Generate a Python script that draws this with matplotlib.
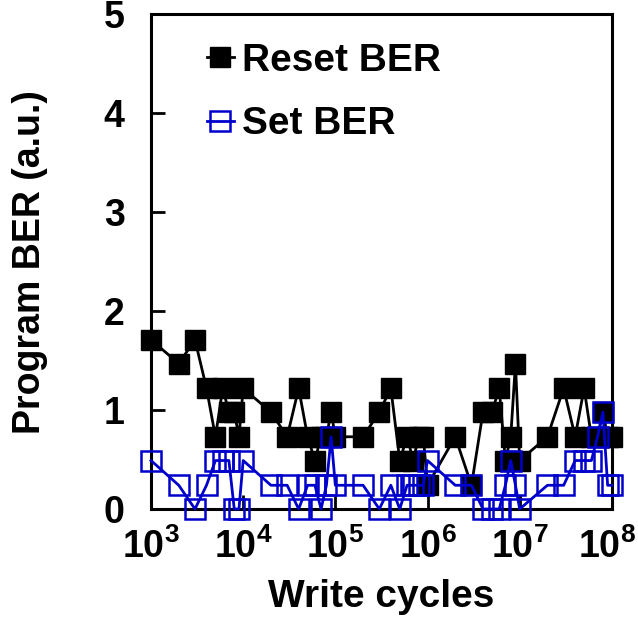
import numpy as np
import matplotlib
matplotlib.use('Agg')
import matplotlib.pyplot as plt
import matplotlib.transforms as mtransforms

plt.rcParams['font.family'] = ['Liberation Sans', 'DejaVu Sans']
plt.rcParams['font.weight'] = 'bold'
plt.rcParams['mathtext.fontset'] = 'custom'
plt.rcParams['mathtext.bf'] = 'Liberation Sans:bold'
plt.rcParams['mathtext.rm'] = 'Liberation Sans:bold'

# cycles: 1..9 x 10^n for n = 3..7, plus 10^8
cycles = [k * 10.0 ** n for n in range(3, 8) for k in range(1, 10)] + [1e8]

reset_ber = [1.71, 1.47, 1.71, 1.22, 0.73, 1.22, 0.98, 0.98, 0.73,
             1.22, 0.98, 0.73, 1.22, 0.73, 0.49, 0.73, 0.73, 0.98,
             0.73, 0.73, 0.98, 1.22, 0.49, 0.73, 0.49, 0.73, 0.73,
             0.24, 0.73, 0.24, 0.98, 0.98, 1.22, 0.49, 0.73, 1.47,
             0.49, 0.73, 1.22, 0.73, 1.22, 0.73, 0.73, 0.98, 0.73,
             0.73]

set_ber = [0.49, 0.24, 0.0, 0.24, 0.49, 0.49, 0.49, 0.0, 0.0,
           0.49, 0.24, 0.24, 0.0, 0.24, 0.24, 0.0, 0.24, 0.73,
           0.24, 0.24, 0.0, 0.24, 0.0, 0.24, 0.24, 0.24, 0.24,
           0.49, 0.24, 0.24, 0.0, 0.0, 0.0, 0.24, 0.49, 0.24,
           0.0, 0.24, 0.24, 0.49, 0.49, 0.49, 0.73, 0.98, 0.24,
           0.24]

fig = plt.figure(figsize=(6.38, 6.17), dpi=100)
ax = fig.add_axes([0.2367, 0.175, 0.7223, 0.802])

ax.plot(cycles, reset_ber, color='black', lw=2, marker='s', ms=14,
        mfc='black', mec='black', label='Reset BER', clip_on=False, zorder=3)
ax.plot(cycles, set_ber, color='#0000cc', lw=2, marker='s', ms=14,
        mfc='none', mec='#0000cc', mew=1.8, label='Set BER', clip_on=False, zorder=4)

ax.set_xscale('log')
ax.set_xlim(1e3, 1e8)
ax.set_ylim(0, 5)
ax.set_yticks([0, 1, 2, 3, 4, 5])
ax.set_xticks([1e3, 1e4, 1e5, 1e6, 1e7, 1e8])
ax.set_xticklabels([r'$\mathbf{10^{%d}}$' % n for n in range(3, 9)])

for s in ax.spines.values():
    s.set_linewidth(2.2)
ax.tick_params(which='both', direction='in', top=False, right=False, width=2)
ax.tick_params(which='major', length=10)
ax.tick_params(which='minor', length=6, width=1.5)
ax.tick_params(axis='x', which='major', labelsize=27, pad=14)
ax.tick_params(axis='y', which='major', labelsize=27, pad=19)
for lab in ax.get_yticklabels():
    lab.set_fontweight('bold')

# keep 10^8 inside the figure
last = ax.get_xticklabels()[-1]
last.set_transform(last.get_transform() +
                   mtransforms.ScaledTranslation(-5 / 100, 0, fig.dpi_scale_trans))

ax.set_xlabel('Write cycles', fontsize=28, fontweight='bold', labelpad=9)
ax.set_ylabel('Program BER (a.u.)', fontsize=27, fontweight='bold', labelpad=40)

ax.legend(loc='upper left', bbox_to_anchor=(0.121, 0.942), frameon=False,
          handlelength=0.7, handletextpad=0.2, labelspacing=0.7,
          borderpad=0, borderaxespad=0, prop={'weight': 'bold', 'size': 28})

fig.savefig('out.png', dpi=100)
